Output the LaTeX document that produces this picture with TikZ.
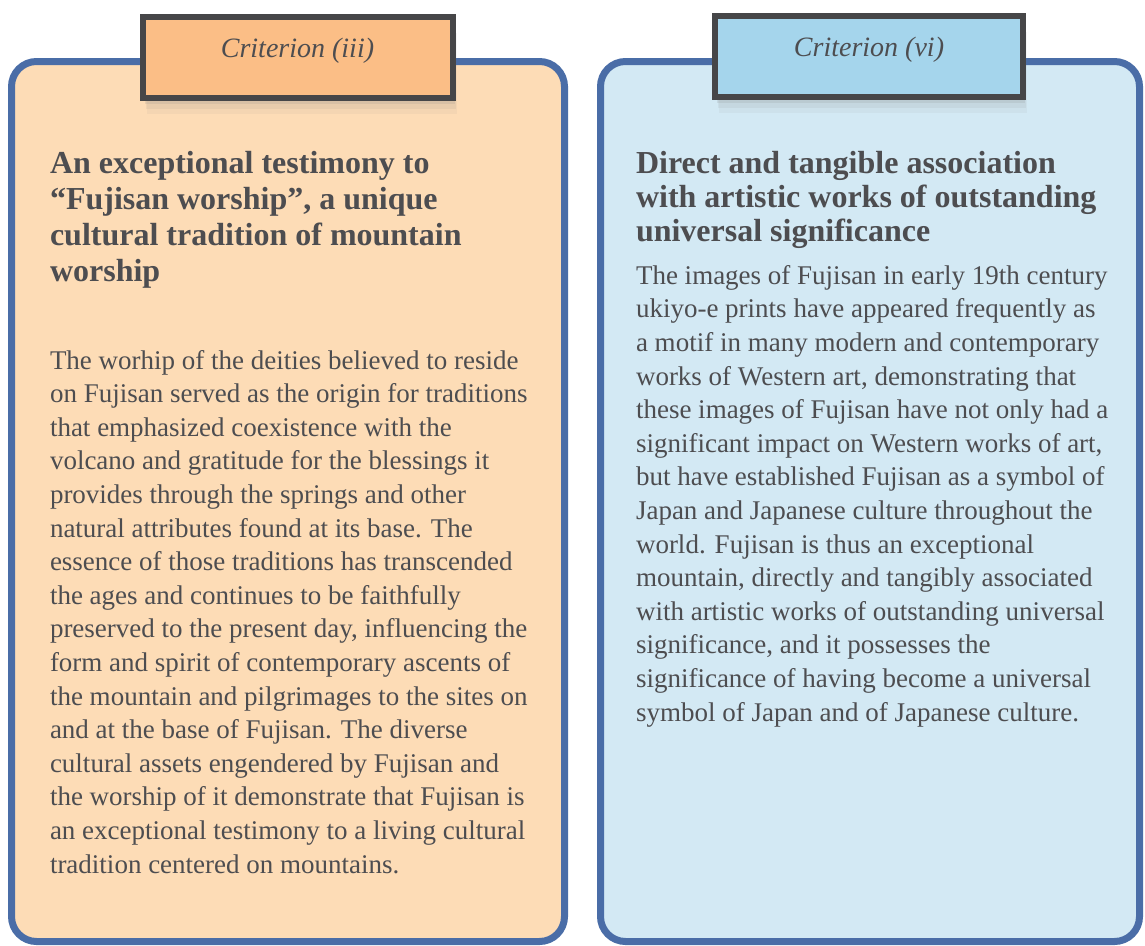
\documentclass[tikz,border=0pt]{standalone}
\usepackage{fontspec}
\setmainfont{Liberation Serif}
\usepackage{tikz}
\usetikzlibrary{shadows}

\definecolor{rim}{RGB}{74,109,167}
\definecolor{tabrim}{RGB}{70,70,72}
\definecolor{peach}{RGB}{253,220,182}
\definecolor{peachtab}{RGB}{251,190,134}
\definecolor{sky}{RGB}{211,233,244}
\definecolor{skytab}{RGB}{165,213,236}
\definecolor{ink}{RGB}{77,77,80}

\begin{document}
\begin{tikzpicture}[x=1pt,y=-1pt
	,outer sep=0pt
	,panel/.style={draw=rim,line width=7pt,rounded corners=25pt,
              minimum width=553pt,minimum height=880pt,anchor=north west}
	,tabbox/.style={draw=tabrim,line width=6pt,minimum width=310pt,
              minimum height=81pt,text height=20pt,text depth=20pt,
              drop shadow={shadow xshift=4pt,shadow yshift=-16pt,opacity=.07},
              drop shadow={shadow xshift=3pt,shadow yshift=-11pt,opacity=.1},
              drop shadow={shadow xshift=2pt,shadow yshift=-6pt,opacity=.15},
              font=\fontsize{28}{32}\selectfont\itshape,text=ink}
	,ttl/.style={anchor=base west,align=left,inner sep=0pt,text=ink,
              font=\fontsize{32}{36}\selectfont\bfseries}
	,body/.style={anchor=base west,align=left,inner sep=0pt,text=ink,
              font=\fontsize{27}{33.6}\selectfont}]
  \useasboundingbox (0,0) rectangle (1145,945);

  % two panels
  \node[panel,fill=peach] (lpanel) at (11.5,61.5) {};
  \node[panel,fill=sky,minimum width=539pt] (rpanel) at (600.5,61.5) {};

  % tabs on top
  \node[tabbox,fill=peachtab] (ltab) at (297.5,57) {Criterion (iii)};
  \node[tabbox,fill=skytab,minimum width=308pt] (rtab) at (869,56.5) {Criterion (vi)};

  % left texts (placed at the baseline of their last line)
  \node[ttl] (ltitle) at (50,281) {An exceptional testimony to\\
    ``Fujisan worship'', a unique\\
    cultural tradition of mountain\\
    worship};
  \node[body] (lbody) at (50,873) {The worhip of the deities believed to reside\\
    on Fujisan served as the origin for traditions\\
    that emphasized coexistence with the\\
    volcano and gratitude for the blessings it\\
    provides through the springs and other\\
    natural attributes found at its base. The\\
    essence of those traditions has transcended\\
    the ages and continues to be faithfully\\
    preserved to the present day, influencing the\\
    form and spirit of contemporary ascents of\\
    the mountain and pilgrimages to the sites on\\
    and at the base of Fujisan. The diverse\\
    cultural assets engendered by Fujisan and\\
    the worship of it demonstrate that Fujisan is\\
    an exceptional testimony to a living cultural\\
    tradition centered on mountains.};

  % right texts
  \node[ttl,font=\fontsize{32}{34}\selectfont\bfseries] (rtitle) at (636,241)
    {Direct and tangible association\\
    with artistic works of outstanding\\
    universal significance};
  \node[body] (rbody) at (636,721) {The images of Fujisan in early 19th century\\
    ukiyo-e prints have appeared frequently as\\
    a motif in many modern and contemporary\\
    works of Western art, demonstrating that\\
    these images of Fujisan have not only had a\\
    significant impact on Western works of art,\\
    but have established Fujisan as a symbol of\\
    Japan and Japanese culture throughout the\\
    world. Fujisan is thus an exceptional\\
    mountain, directly and tangibly associated\\
    with artistic works of outstanding universal\\
    significance, and it possesses the\\
    significance of having become a universal\\
    symbol of Japan and of Japanese culture.};
\end{tikzpicture}
\end{document}
